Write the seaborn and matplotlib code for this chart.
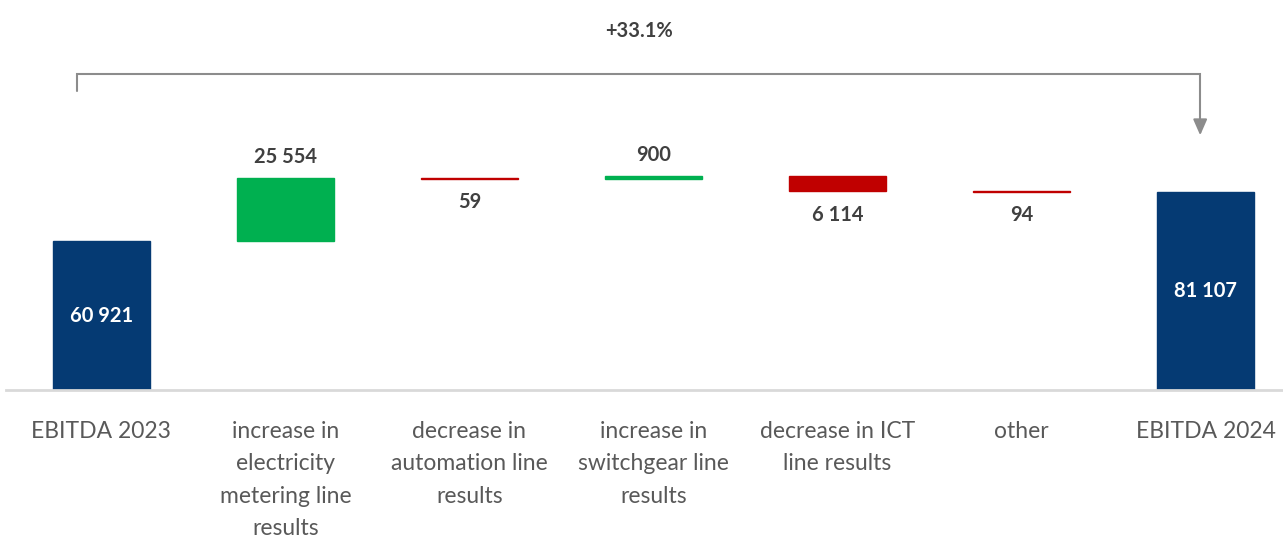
import matplotlib
matplotlib.use("Agg")
import matplotlib.pyplot as plt
import seaborn as sns
import numpy as np

# Bridge from EBITDA 2023 to EBITDA 2024 (PLN thousand)
categories = [
    "EBITDA 2023",
    "increase in\nelectricity\nmetering line\nresults",
    "decrease in\nautomation line\nresults",
    "increase in\nswitchgear line\nresults",
    "decrease in ICT\nline results",
    "other",
    "EBITDA 2024",
]
values = [60921, 25554, -59, 900, -6114, -94, 81107]
kinds = ["total", "delta", "delta", "delta", "delta", "delta", "total"]

NAVY = "#053A73"
GREEN = "#00B050"
RED = "#C00000"
LABEL = "#404040"
TICK = "#595959"

sns.set_theme(style="white")
plt.rcParams["font.family"] = ["Lato", "DejaVu Sans"]

# Floating bar geometry
bottoms, heights, colors = [], [], []
running = 0
for v, k in zip(values, kinds):
    if k == "total":
        bottoms.append(0)
        heights.append(v)
        colors.append(NAVY)
        running = v
    else:
        if v >= 0:
            bottoms.append(running)
            colors.append(GREEN)
        else:
            bottoms.append(running + v)
            colors.append(RED)
        heights.append(abs(v))
        running += v

fig = plt.figure(figsize=(12.83, 5.41), dpi=100)
ax = fig.add_axes([0.005, 0.279, 0.995, 0.721])

xpos = list(range(len(categories)))
sns.barplot(x=xpos, y=heights, hue=xpos, palette=colors, dodge=False,
            legend=False, width=0.53, ax=ax, saturation=1,
            linewidth=1.0)

for p in ax.patches:
    i = int(round(p.get_x() + p.get_width() / 2))
    p.set_y(bottoms[i])
    p.set_height(heights[i])
    p.set_edgecolor(colors[i])

ymax = 159400
ax.set_ylim(0, ymax)
ax.set_xlim(-0.516, 6.42)

for s in ["top", "right", "left"]:
    ax.spines[s].set_visible(False)
ax.spines["bottom"].set_color("#D9D9D9")
ax.spines["bottom"].set_linewidth(2)
ax.set_yticks([])
ax.set_xticks(xpos)
ax.set_xticklabels(categories, fontsize=16.5, color=TICK, linespacing=1.68,
                   va="top")
ax.tick_params(axis="x", length=0, pad=22)

def fmt(v):
    return f"{abs(v):,}".replace(",", " ")

for i, (v, k) in enumerate(zip(values, kinds)):
    b, h = bottoms[i], heights[i]
    if k == "total":
        ax.text(i, b + h / 2, fmt(v), ha="center", va="center",
                color="white", fontsize=14.5, fontweight="bold")
    elif v >= 0:
        ax.annotate(fmt(v), (i, b + h), xytext=(0, 8), textcoords="offset points",
                    ha="center", va="bottom", color=LABEL, fontsize=14.5,
                    fontweight="bold")
    else:
        ax.annotate(fmt(v), (i, b), xytext=(0, -10), textcoords="offset points",
                    ha="center", va="top", color=LABEL, fontsize=14.5,
                    fontweight="bold")

# Growth bracket from the first total to the last one
growth = values[-1] / values[0] - 1
peak = max(b + h for b, h in zip(bottoms, heights))
y_top = peak + 42000
y_left = peak + 35000
y_tip = values[-1] + 23000
x0, x1 = -0.13, 5.97
ax.plot([x0, x0, x1, x1], [y_left, y_top, y_top, y_tip + 4000],
        color="#8C8C8C", lw=1.5, clip_on=False, solid_joinstyle="miter")
ax.annotate("", xy=(x1, y_tip), xytext=(x1, y_tip + 6000),
            arrowprops=dict(arrowstyle="-|>,head_length=0.8,head_width=0.35",
                            color="#8C8C8C", lw=1.5, shrinkA=0, shrinkB=0))
ax.text((x0 + x1) / 2, y_top + 17500, f"+{growth * 100:.1f}%",
        ha="center", va="center", color=LABEL, fontsize=14.5, fontweight="bold")

fig.savefig("out.png", dpi=100, facecolor="white")
